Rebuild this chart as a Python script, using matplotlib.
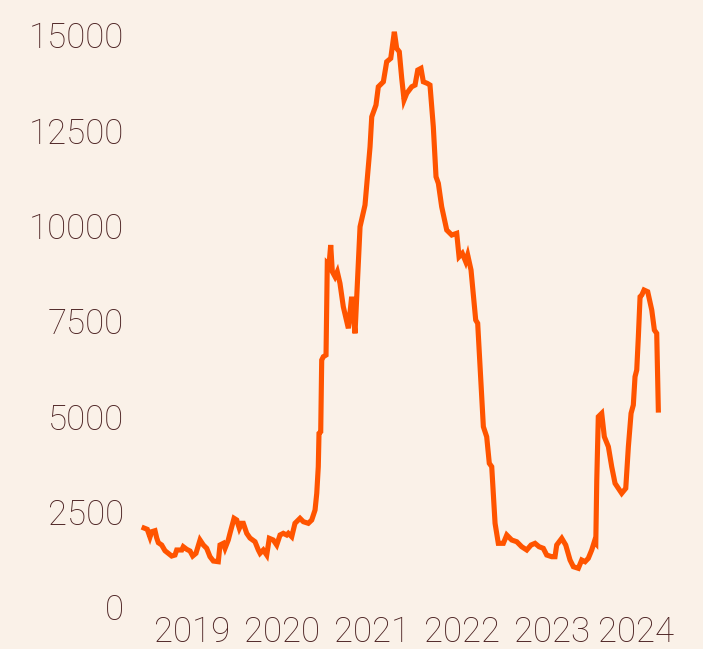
import matplotlib.pyplot as plt
from matplotlib.transforms import ScaledTranslation

years = [
    2018.467, 2018.503, 2018.533, 2018.552, 2018.589, 2018.608, 2018.626, 2018.663,
    2018.700, 2018.737, 2018.774, 2018.811, 2018.830, 2018.886, 2018.903, 2018.941,
    2018.978, 2019.008, 2019.044, 2019.089, 2019.126, 2019.163, 2019.200, 2019.237,
    2019.292, 2019.311, 2019.348, 2019.367, 2019.403, 2019.422, 2019.467, 2019.497,
    2019.526, 2019.552, 2019.570, 2019.608, 2019.644, 2019.700, 2019.737, 2019.756,
    2019.792, 2019.830, 2019.859, 2019.903, 2019.941, 2019.978, 2020.014, 2020.052,
    2020.070, 2020.108, 2020.144, 2020.200, 2020.237, 2020.292, 2020.330, 2020.367,
    2020.386, 2020.403, 2020.411, 2020.430, 2020.441, 2020.459, 2020.489, 2020.503,
    2020.522, 2020.541, 2020.559, 2020.589, 2020.614, 2020.644, 2020.681, 2020.737,
    2020.774, 2020.811, 2020.867, 2020.922, 2020.978, 2020.997, 2021.044, 2021.070,
    2021.126, 2021.163, 2021.208, 2021.248, 2021.274, 2021.303, 2021.330, 2021.356,
    2021.386, 2021.441, 2021.478, 2021.508, 2021.544, 2021.570, 2021.614, 2021.644,
    2021.681, 2021.711, 2021.737, 2021.774, 2021.830, 2021.886, 2021.941, 2021.967,
    2022.003, 2022.041, 2022.063, 2022.100, 2022.152, 2022.174, 2022.237, 2022.274,
    2022.303, 2022.330, 2022.367, 2022.403, 2022.459, 2022.497, 2022.552, 2022.608,
    2022.663, 2022.719, 2022.767, 2022.811, 2022.856, 2022.903, 2022.941, 2022.997,
    2023.033, 2023.052, 2023.108, 2023.152, 2023.200, 2023.237, 2023.292, 2023.330,
    2023.367, 2023.403, 2023.441, 2023.470, 2023.486, 2023.497, 2023.514, 2023.552,
    2023.581, 2023.626, 2023.663, 2023.700, 2023.737, 2023.774, 2023.819, 2023.848,
    2023.878, 2023.903, 2023.922, 2023.941, 2023.959, 2023.978, 2023.997, 2024.022,
    2024.063, 2024.108, 2024.137, 2024.163, 2024.181,
]
values = [
    2071, 2037, 1835, 1974, 2001, 1809, 1686, 1626,
    1476, 1408, 1337, 1363, 1495, 1495, 1581, 1513,
    1468, 1337, 1408, 1757, 1626, 1539, 1319, 1206,
    1188, 1626, 1670, 1539, 1757, 1932, 2326, 2281,
    2064, 2195, 2195, 1932, 1809, 1712, 1495, 1408,
    1495, 1363, 1801, 1757, 1626, 1888, 1932, 1888,
    1932, 1843, 2195, 2326, 2237, 2195, 2281, 2543,
    2981, 3679, 4554, 4596, 6476, 6563, 6607, 9012,
    8967, 9492, 8792, 8661, 8792, 8487, 7874, 7308,
    8136, 7176, 9972, 10540, 12069, 12856, 13162, 13642,
    13773, 14298, 14387, 15084, 14649, 14560, 13863, 13294,
    13469, 13642, 13687, 14080, 14125, 13773, 13731, 13687,
    12593, 11282, 11109, 10496, 9885, 9754, 9799, 9185,
    9274, 9054, 9229, 8836, 7525, 7439, 4728, 4465,
    3768, 3679, 2195, 1670, 1670, 1888, 1757, 1712,
    1581, 1495, 1626, 1670, 1581, 1539, 1363, 1319,
    1319, 1626, 1801, 1626, 1232, 1057, 1015, 1232,
    1188, 1277, 1495, 1712, 1670, 3330, 4990, 5079,
    4465, 4203, 3679, 3243, 3112, 2981, 3112, 4203,
    5079, 5296, 6039, 6214, 7087, 8136, 8181, 8312,
    8267, 7787, 7263, 7176, 5165,
]
year_ticks = [2019, 2020, 2021, 2022, 2023, 2024]
value_ticks = [0, 2500, 5000, 7500, 10000, 12500, 15000]

bg = "#faf1e8"
ink = "#4c2222"
orange = "#ff5400"

plt.rcParams["font.family"] = ["Roboto", "DejaVu Sans"]

fig = plt.figure(figsize=(7.03, 6.49), dpi=100, facecolor=bg)
ax = fig.add_axes([0.1963, 0.0647, 0.749, 0.8814], facecolor=bg)
ax.plot(years, values, color=orange, linewidth=3.7,
        solid_joinstyle="miter", clip_on=False)

ax.set_xlim(2018.4, 2024.25)
ax.set_ylim(0, 15000)
ax.set_xticks(year_ticks)
ax.set_xticklabels([str(y) for y in year_ticks])
ax.set_yticks(value_ticks)
ax.set_yticklabels([str(v) for v in value_ticks])
ax.tick_params(axis="both", length=0, labelsize=25, labelcolor=ink)
ax.tick_params(axis="y", pad=10)
ax.tick_params(axis="x", pad=6)
for lab in ax.get_xticklabels() + ax.get_yticklabels():
    lab.set_fontweight("light")
# last year label sits a little left of its tick, kept inside the frame
last = ax.get_xticklabels()[-1]
last.set_transform(last.get_transform() + ScaledTranslation(-0.06, 0, fig.dpi_scale_trans))
for side in ax.spines.values():
    side.set_visible(False)

fig.savefig("out.png", dpi=100, facecolor=bg)
plt.close(fig)
